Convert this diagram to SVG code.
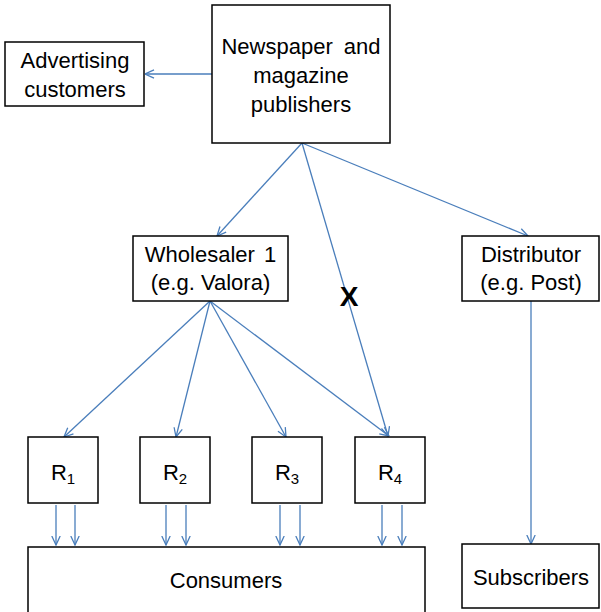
<svg xmlns="http://www.w3.org/2000/svg" width="601" height="612" viewBox="0 0 601 612">
<style>
.box{fill:#fff;stroke:#000;stroke-width:1.5}
.t{font-family:"Liberation Sans",Arial,sans-serif;font-size:22px;fill:#000;text-anchor:middle}
.sub{font-size:15px}
.c{stroke:#4a7ebb;stroke-width:1.3;fill:none;marker-end:url(#ah)}
</style>
<defs>
<marker id="ah" markerUnits="userSpaceOnUse" viewBox="0 0 10 10" markerWidth="10" markerHeight="10" refX="9.5" refY="5" orient="auto">
<path d="M0.5,0.8 L9.5,5 L0.5,9.2" fill="none" stroke="#4a7ebb" stroke-width="1.3"/>
</marker>
</defs>
<rect width="601" height="612" fill="#fff"/>
<g id="connectors">
<line class="c" x1="212" y1="74" x2="145" y2="74"/>
<line class="c" x1="302" y1="143" x2="217" y2="236"/>
<line class="c" x1="302" y1="143" x2="528" y2="236"/>
<line class="c" x1="302" y1="143" x2="388" y2="436"/>
<line class="c" x1="210" y1="301" x2="64" y2="437"/>
<line class="c" x1="210" y1="301" x2="176" y2="437"/>
<line class="c" x1="210" y1="301" x2="286" y2="437"/>
<line class="c" x1="210" y1="301" x2="389" y2="436"/>
<line class="c" x1="531" y1="301" x2="531" y2="544"/>
<line class="c" x1="56" y1="505" x2="56" y2="545"/>
<line class="c" x1="75" y1="505" x2="75" y2="545"/>
<line class="c" x1="166" y1="505" x2="166" y2="545"/>
<line class="c" x1="186" y1="505" x2="186" y2="545"/>
<line class="c" x1="280" y1="505" x2="280" y2="545"/>
<line class="c" x1="300" y1="505" x2="300" y2="545"/>
<line class="c" x1="382" y1="505" x2="382" y2="545"/>
<line class="c" x1="402" y1="505" x2="402" y2="545"/>
<text x="349" y="306" style="font-family:'Liberation Sans',Arial,sans-serif;font-size:28px;font-weight:bold;text-anchor:middle">X</text>
</g>
<g id="advertising">
<rect class="box" x="5" y="42" width="139" height="64"/>
<text class="t" x="75" y="68">Advertising</text>
<text class="t" x="75" y="97">customers</text>
</g>
<g id="publishers">
<rect class="box" x="212" y="5" width="178" height="138"/>
<text class="t" x="301" y="54" word-spacing="5">Newspaper and</text>
<text class="t" x="301" y="83">magazine</text>
<text class="t" x="301" y="112">publishers</text>
</g>
<g id="wholesaler">
<rect class="box" x="133" y="236" width="155" height="65"/>
<text class="t" x="210.5" y="262" word-spacing="3">Wholesaler 1</text>
<text class="t" x="210.5" y="290">(e.g. Valora)</text>
</g>
<g id="distributor">
<rect class="box" x="462" y="236" width="137" height="65"/>
<text class="t" x="531" y="262">Distributor</text>
<text class="t" x="531" y="290">(e.g. Post)</text>
</g>
<g id="r1">
<rect class="box" x="28" y="437" width="70" height="66"/>
<text class="t" x="63" y="480">R<tspan class="sub" dy="4">1</tspan></text>
</g>
<g id="r2">
<rect class="box" x="140" y="437" width="70" height="66"/>
<text class="t" x="175" y="480">R<tspan class="sub" dy="4">2</tspan></text>
</g>
<g id="r3">
<rect class="box" x="252" y="437" width="70" height="66"/>
<text class="t" x="287" y="480">R<tspan class="sub" dy="4">3</tspan></text>
</g>
<g id="r4">
<rect class="box" x="355" y="437" width="70" height="66"/>
<text class="t" x="390" y="480">R<tspan class="sub" dy="4">4</tspan></text>
</g>
<g id="consumers">
<rect class="box" x="28" y="547" width="397" height="80"/>
<text class="t" x="226" y="588">Consumers</text>
</g>
<g id="subscribers">
<rect class="box" x="462" y="544" width="137" height="64"/>
<text class="t" x="531" y="585">Subscribers</text>
</g>
</svg>
